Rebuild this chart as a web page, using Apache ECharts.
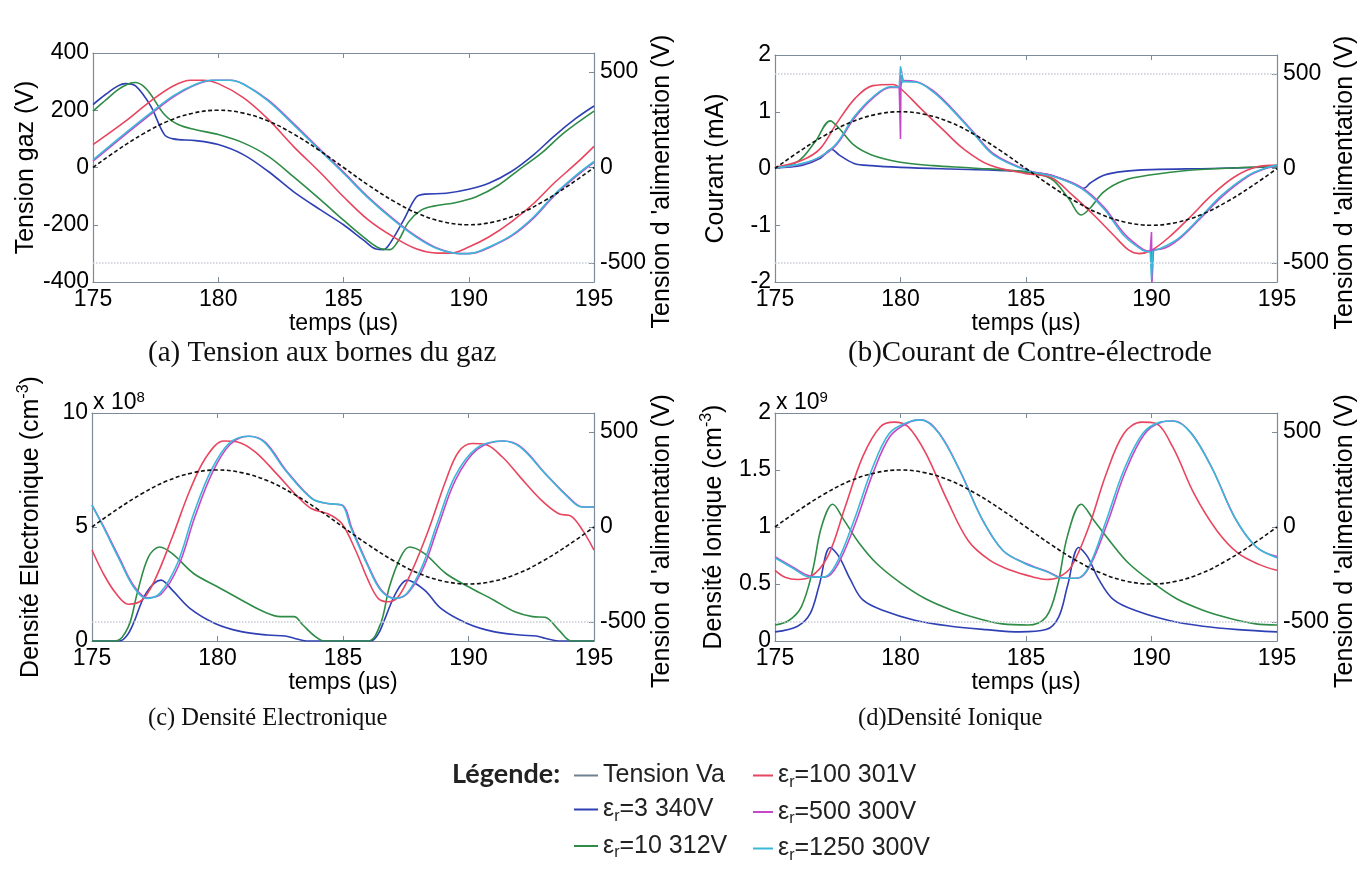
<!DOCTYPE html>
<html><head><meta charset="utf-8">
<script src="https://cdn.jsdelivr.net/npm/echarts@6/dist/echarts.min.js"></script>
<style>html,body{margin:0;padding:0;background:#fff}#c{width:1372px;height:880px}</style>
</head><body><div id="c"></div><script>
// ---------- DATA ----------
const SERIES_NAMES = ['Tension Va','εr=3 340V','εr=10 312V','εr=100 301V','εr=500 300V','εr=1250 300V'];
const X_TICKS = [175, 195, 5];
const T_VA = [175,176,177,178,179,180,181,182,183,184,185,186,187,188,189,190,191,192,193,194,195];
const VA   = [0,93,176,243,285,300,285,243,176,93,0,-93,-176,-243,-285,-300,-285,-243,-176,-93,0];

// (a) Tension gaz (V)
const A_E3 = [[175,220],[175.5,255],[176,285],[176.3,293],[176.7,285],[177.3,215],[177.85,115],[178.2,100],[179.1,94],[180,80],[181,45],[182,-14],[183,-84],[184.1,-149],[185,-200],[185.8,-254],[186.3,-285],[186.6,-287],[186.85,-266],[187.4,-184],[187.9,-104],[188.25,-93],[189.1,-90],[190,-76],[190.8,-55],[191.7,-14],[192.6,45],[193.4,109],[194.3,173],[195,215]];
const A_E10 = [[175,197],[175.5,235],[176,272],[176.4,292],[176.7,297],[177,285],[177.3,256],[177.85,185],[178.4,150],[179.1,132],[180,115],[181,86],[182,39],[183,-32],[184.1,-114],[185,-184],[185.8,-243],[186.5,-284],[186.85,-287],[187.2,-254],[187.6,-190],[188.1,-149],[188.6,-135],[189.5,-122],[190.3,-102],[191.2,-61],[192,-8],[192.9,50],[193.8,121],[195,197]];
const A_E100 = [[175,80],[176.3,162],[177.3,232],[178.2,285],[178.9,305],[179.4,305],[180,293],[181,244],[182,168],[183,74],[184.1,-20],[185,-102],[186,-184],[187,-243],[187.9,-284],[188.75,-299],[189.3,-299],[190,-278],[190.8,-243],[191.7,-190],[192.6,-125],[193.4,-55],[194.3,15],[195,74]];
const A_E500 = [[175,22],[176.3,116],[177.3,186],[178.2,246],[179.1,289],[179.8,305],[180.5,305],[181,292],[182,235],[183,154],[184.1,60],[185,-16],[186,-104],[187,-180],[187.9,-240],[188.75,-282],[189.7,-301],[190.2,-299],[190.8,-280],[191.7,-240],[192.6,-176],[193.4,-100],[194.3,-30],[195,18]];
const A_E1250 = [[175,27],[176.3,121],[177.3,191],[178.2,250],[179.1,291],[179.75,305],[180.45,305],[181,291],[182,232],[183,150],[184.1,56],[185,-20],[186,-108],[187,-184],[187.9,-243],[188.75,-284],[189.65,-301],[190.15,-299],[190.8,-278],[191.7,-237],[192.6,-172],[193.4,-96],[194.3,-26],[195,21]];

// (b) Courant (mA)
const B_E3 = [[175,0.01],[176.1,0.06],[176.8,0.18],[177.25,0.34],[177.55,0.24],[178.15,0.09],[178.85,0.05],[180,0.02],[182,-0.01],[183.7,-0.03],[185,-0.06],[186,-0.12],[186.85,-0.26],[187.3,-0.35],[187.55,-0.26],[188.1,-0.12],[188.9,-0.05],[190,-0.02],[192.4,0],[195,0.03]];
const B_E10 = [[175,0.01],[175.9,0.12],[176.6,0.47],[177.2,0.84],[177.55,0.71],[178.15,0.41],[178.85,0.24],[180,0.11],[181.3,0.05],[182.85,0.01],[185,-0.06],[186,-0.18],[186.7,-0.53],[187.2,-0.82],[187.55,-0.7],[188.1,-0.41],[188.9,-0.21],[190,-0.11],[191.5,-0.03],[193.3,0.01],[195,0.03]];
const B_E100 = [[175,0.02],[176.1,0.15],[176.8,0.35],[177.45,0.79],[178.2,1.24],[178.9,1.46],[179.7,1.48],[180,1.41],[180.8,1.06],[181.7,0.68],[182.5,0.35],[183.55,0.06],[185,-0.09],[186,-0.16],[186.85,-0.47],[187.7,-0.82],[188.5,-1.18],[189.1,-1.44],[189.5,-1.5],[190,-1.44],[190.7,-1.21],[191.55,-0.85],[192.4,-0.47],[193.3,-0.15],[194.2,0.03],[195,0.06]];
const B_E500 = [[175,0.01],[176.1,0.08],[176.8,0.2],[177.45,0.42],[178.15,0.88],[178.9,1.24],[179.6,1.43],[179.95,1.43],[180.1,1.55],[180.65,1.53],[181.3,1.37],[182,1.08],[182.85,0.67],[183.7,0.26],[185,-0.02],[186.15,-0.14],[187.2,-0.33],[188.1,-0.68],[188.9,-1.14],[189.65,-1.42],[189.95,-1.46],[190.08,-1.43],[190.4,-1.42],[191.05,-1.26],[191.9,-0.9],[192.8,-0.5],[193.85,-0.14],[194.55,0.0],[195,0.05]];
const B_E1250 = [[175,0.01],[176.1,0.09],[176.8,0.21],[177.45,0.44],[178.15,0.91],[178.9,1.26],[179.6,1.44],[179.95,1.43],[180.1,1.53],[180.65,1.52],[181.3,1.35],[182,1.06],[182.85,0.65],[183.7,0.24],[185,-0.03],[186.15,-0.15],[187.2,-0.35],[188.1,-0.71],[188.9,-1.18],[189.65,-1.44],[189.95,-1.47],[190.05,-1.45],[190.35,-1.41],[191.05,-1.24],[191.9,-0.88],[192.8,-0.47],[193.85,-0.12],[194.55,0.01],[195,0.06]];
const B_E500_SPIKES = [[[179.95,1.43],[180,0.52],[180.02,1.75],[180.1,1.55]], [[189.95,-1.46],[190,-1.12],[190.02,-2.0],[190.08,-1.43]]];
const B_E1250_SPIKES = [[[179.95,1.43],[180,1.8],[180.1,1.53]], [[189.95,-1.47],[190,-1.95],[190.05,-1.45]]];

// (c) Densité électronique (x1e8 cm-3)
const C_E3 = [[175,0],[176.1,0],[176.4,0.25],[176.65,0.77],[177.15,2.09],[177.75,2.67],[178.2,2.23],[178.9,1.43],[179.9,0.77],[180.95,0.41],[182,0.26],[182.7,0.22],[183.05,0.12],[183.55,0],[186.1,0],[186.4,0.3],[186.65,0.92],[187.1,2.09],[187.55,2.67],[188.25,2.23],[188.9,1.43],[189.95,0.77],[191,0.41],[192.05,0.26],[192.7,0.22],[193.05,0.12],[193.6,0],[195,0]];
const C_E10 = [[175,0],[175.95,0],[176.45,0.63],[176.8,2.09],[177.25,3.69],[177.7,4.12],[178.2,3.83],[179.05,2.96],[180,2.38],[180.95,1.8],[181.85,1.28],[182.5,1.07],[183.05,1.07],[183.4,0.7],[183.9,0.19],[184.25,0],[186,0],[186.5,0.77],[186.85,2.38],[187.3,3.69],[187.65,4.12],[188.25,3.83],[189.1,2.96],[190,2.38],[191,1.8],[191.85,1.28],[192.55,1.07],[193.05,1.04],[193.6,0.48],[194.1,0],[195,0]];
const C_E100 = [[175,3.99],[175.45,2.96],[175.95,2.09],[176.45,1.61],[177,1.8],[177.5,2.67],[178.2,4.56],[178.9,6.61],[179.55,8.07],[180.25,8.77],[180.8,8.73],[181.5,8.29],[182.35,7.34],[183.2,6.32],[183.75,5.8],[184.4,5.58],[184.95,5.15],[185.5,3.98],[186,2.67],[186.4,1.87],[186.8,1.72],[187.2,1.94],[187.7,2.96],[188.4,4.85],[189.1,7.05],[189.6,8.29],[190.15,8.66],[190.65,8.63],[191.35,8.07],[192.05,7.2],[192.9,6.18],[193.6,5.58],[194.1,5.47],[194.55,4.85],[195,3.99]];
const C_E500 = [[175,5.96],[175.45,5.05],[176.1,3.62],[176.65,2.45],[177.2,1.9],[177.75,2.05],[178.45,3.3],[179.1,5.45],[179.8,7.4],[180.5,8.62],[181.25,8.98],[181.9,8.72],[182.75,7.46],[183.8,6.22],[184.45,6.02],[185,5.94],[185.35,4.95],[186.05,3.2],[186.55,2.2],[187.1,1.87],[187.6,2.12],[188.2,3.2],[188.8,5.05],[189.5,7.1],[190.35,8.4],[191.4,8.77],[192.1,8.5],[193.1,7.3],[194,6.3],[194.55,5.88],[195,5.88]];
const C_E1250 = [[175,5.96],[175.45,5.0],[176.1,3.55],[176.65,2.38],[177.15,1.87],[177.7,2.09],[178.4,3.4],[179.05,5.58],[179.75,7.49],[180.45,8.66],[181.2,8.98],[181.85,8.73],[182.7,7.49],[183.75,6.25],[184.4,6.03],[184.95,5.96],[185.3,5.0],[186,3.26],[186.5,2.23],[187.05,1.87],[187.55,2.09],[188.15,3.26],[188.75,5.15],[189.45,7.2],[190.3,8.44],[191.35,8.77],[192.05,8.51],[193.05,7.34],[193.95,6.32],[194.5,5.88],[195,5.88]];

// (d) Densité ionique (x1e9 cm-3)
const D_E3 = [[175,0.08],[175.9,0.13],[176.4,0.24],[176.75,0.48],[177.2,0.82],[177.55,0.74],[178,0.54],[178.5,0.36],[179.4,0.26],[180.6,0.18],[182,0.13],[183.4,0.1],[184.75,0.08],[185.8,0.1],[186.3,0.21],[186.65,0.48],[187.1,0.82],[187.45,0.74],[187.9,0.54],[188.5,0.36],[189.45,0.26],[190.7,0.18],[192.05,0.13],[193.45,0.1],[195,0.08]];
const D_E10 = [[175,0.14],[175.55,0.18],[176.05,0.3],[176.5,0.62],[176.85,1.0],[177.3,1.2],[177.75,1.06],[178.35,0.86],[179.05,0.68],[180,0.51],[181,0.37],[182.05,0.27],[183.05,0.2],[184.05,0.15],[185.1,0.14],[185.8,0.21],[186.25,0.48],[186.65,0.92],[187.2,1.2],[187.7,1.06],[188.4,0.86],[189.1,0.68],[190,0.52],[191,0.37],[192.05,0.27],[193.1,0.2],[194.15,0.15],[195,0.14]];
const D_E100 = [[175,0.62],[175.4,0.56],[175.9,0.54],[176.4,0.56],[177.1,0.74],[177.8,1.18],[178.5,1.62],[179.2,1.88],[179.75,1.92],[180.3,1.88],[181,1.65],[181.85,1.24],[182.7,0.88],[183.55,0.71],[184.4,0.62],[185.3,0.56],[185.8,0.54],[186.3,0.56],[186.8,0.65],[187.5,1.0],[188.2,1.47],[188.9,1.82],[189.6,1.92],[190.15,1.91],[190.85,1.7],[191.7,1.29],[192.6,0.97],[193.45,0.77],[194.3,0.67],[195,0.62]];
const D_E500 = [[175,0.74],[175.7,0.65],[176.4,0.57],[177,0.56],[177.5,0.67],[178.2,1.03],[178.9,1.47],[179.6,1.8],[180.35,1.92],[180.85,1.94],[181.55,1.82],[182.4,1.48],[183.25,1.07],[184.1,0.79],[185,0.68],[185.85,0.61],[186.55,0.55],[187.05,0.55],[187.55,0.66],[188.25,1.04],[188.95,1.48],[189.7,1.81],[190.4,1.92],[190.9,1.93],[191.6,1.82],[192.45,1.5],[193.35,1.07],[194.2,0.82],[195,0.74]];
const D_E1250 = [[175,0.73],[175.7,0.64],[176.4,0.56],[176.95,0.56],[177.45,0.68],[178.15,1.06],[178.85,1.5],[179.55,1.82],[180.3,1.92],[180.8,1.94],[181.5,1.83],[182.35,1.5],[183.2,1.09],[184.05,0.8],[184.95,0.68],[185.8,0.61],[186.5,0.55],[187,0.55],[187.5,0.65],[188.2,1.06],[188.9,1.5],[189.65,1.82],[190.35,1.92],[190.85,1.93],[191.55,1.83],[192.4,1.52],[193.3,1.09],[194.15,0.83],[195,0.73]];

const LEFT_RANGES = [[-400,400,200],[-2,2,1],[0,10,5],[0,2,0.5]];
const RIGHT_RANGE = [-600,600];
const RIGHT_TICKS = [-500,0,500];
const DOTTED_LINES = [[-500],[500,-500],[-500],[-500]];
const LEFT_NAMES = ['Tension gaz (V)','Courant (mA)','{n|Densité Electronique (cm}{sup|-3}{n|)}','{n|Densité Ionique (cm}{sup|-3}{n|)}'];
const RIGHT_NAME = "Tension d 'alimentation (V)";
const X_NAME = 'temps (µs)';
const CAPTIONS = ['(a) Tension aux bornes du gaz','(b)Courant de Contre-électrode','(c) Densité Electronique','(d)Densité Ionique'];
const EXPONENTS = [null,null,'8','9'];

// ---------- STYLE / LAYOUT ----------
const COLORS = ['#111111','#2f3fb4','#2e8c46','#e8455f','#c548c8','#3ab8d8'];
const GRIDS = [
  {left:93, top:53, width:501, height:229},
  {left:775, top:55, width:502, height:227},
  {left:92, top:413, width:502, height:228},
  {left:775, top:413, width:502, height:228}
];
const CAP_POS = [[148,339],[848,339],[148,706],[858,706]];
const CAP_SIZE = [29,29,24.5,24.5];
const FONT = '"Liberation Sans", Arial, sans-serif';
const AXC = '#7d8b99';

const PANEL_DATA = [
  [A_E3,A_E10,A_E100,A_E500,A_E1250],
  [B_E3,B_E10,B_E100,B_E500,B_E1250],
  [C_E3,C_E10,C_E100,C_E500,C_E1250],
  [D_E3,D_E10,D_E100,D_E500,D_E1250]
];

const xAxis = [], yAxis = [], series = [], graphic = [];
const lblStyle = {color:'#000', fontFamily:FONT, fontSize:23};
const nameStyle = {color:'#000', fontFamily:FONT, fontSize:25};
GRIDS.forEach((g,i)=>{
  xAxis.push({gridIndex:i, type:'value', min:X_TICKS[0], max:X_TICKS[1], interval:X_TICKS[2],
    name:X_NAME, nameLocation:'middle', nameGap:26, nameTextStyle:{...lblStyle},
    axisLine:{onZero:false, lineStyle:{color:AXC,width:1.2}}, axisTick:{inside:true,length:5,lineStyle:{color:AXC}},
    axisLabel:{...lblStyle, margin:6}, splitLine:{show:false}});
  xAxis.push({gridIndex:i, type:'value', position:'top', min:X_TICKS[0], max:X_TICKS[1], interval:X_TICKS[2],
    axisLine:{onZero:false, lineStyle:{color:AXC,width:1.2}}, axisTick:{inside:true,length:5,lineStyle:{color:AXC}},
    axisLabel:{show:false}, splitLine:{show:false}});
  const lr = LEFT_RANGES[i];
  yAxis.push({gridIndex:i, type:'value', position:'left', min:lr[0], max:lr[1], interval:lr[2],
    name:LEFT_NAMES[i], nameLocation:'middle', nameGap:46,
    nameTextStyle:{...nameStyle, rich:{n:{fontFamily:FONT,fontSize:25,color:'#000',lineHeight:30}, sup:{fontFamily:FONT,fontSize:16,color:'#000',verticalAlign:'top',lineHeight:30}}},
    axisLine:{show:true,onZero:false,lineStyle:{color:AXC,width:1.2}}, axisTick:{inside:true,length:5,lineStyle:{color:AXC}},
    axisLabel:{...lblStyle, margin:4}, splitLine:{show:false}});
  yAxis.push({gridIndex:i, type:'value', position:'right', min:RIGHT_RANGE[0], max:RIGHT_RANGE[1],
    name:RIGHT_NAME, nameLocation:'middle', nameGap:54, nameTextStyle:{...nameStyle, padding:[0,28,0,0]},
    axisLine:{show:true,onZero:false,lineStyle:{color:AXC,width:1.2}},
    axisTick:{inside:true,length:5,lineStyle:{color:AXC},customValues:RIGHT_TICKS},
    axisLabel:{...lblStyle, margin:6, customValues:RIGHT_TICKS}, splitLine:{show:false}});

  // Va on right axis
  series.push({name:SERIES_NAMES[0], type:'line', xAxisIndex:2*i, yAxisIndex:2*i+1,
    data:T_VA.map((t,k)=>[t,VA[k]]), smooth:0.4, showSymbol:false,
    itemStyle:{color:COLORS[0]}, lineStyle:{color:COLORS[0], width:1.6, type:[4,2.5]},
    markLine:{silent:true, symbol:'none', label:{show:false}, animation:false,
      lineStyle:{color:'#c8cdd4', type:'dotted', width:1.5},
      data:DOTTED_LINES[i].map(v=>({yAxis:v}))}, z:3});
  PANEL_DATA[i].forEach((d,k)=>{
    series.push({name:SERIES_NAMES[k+1], type:'line', xAxisIndex:2*i, yAxisIndex:2*i,
      data:d, smooth:0.35, showSymbol:false, itemStyle:{color:COLORS[k+1]},
      lineStyle:{color:COLORS[k+1], width:1.6}, z:2});
  });
  if(i===1){
    B_E500_SPIKES.forEach(sp=>series.push({name:SERIES_NAMES[4], type:'line', xAxisIndex:2, yAxisIndex:2, data:sp, smooth:false, showSymbol:false, itemStyle:{color:COLORS[4]}, lineStyle:{color:COLORS[4],width:1.6}, z:2}));
    B_E1250_SPIKES.forEach(sp=>series.push({name:SERIES_NAMES[5], type:'line', xAxisIndex:2, yAxisIndex:2, data:sp, smooth:false, showSymbol:false, itemStyle:{color:COLORS[5]}, lineStyle:{color:COLORS[5],width:1.6}, z:2}));
  }
  graphic.push({type:'text', left:CAP_POS[i][0], top:CAP_POS[i][1],
    style:{text:CAPTIONS[i], font:CAP_SIZE[i]+'px "Liberation Serif", "Times New Roman", serif', fill:'#111'}});
  if(EXPONENTS[i]){
    graphic.push({type:'text', left:g.left+1, top:g.top-23,
      style:{text:'{a|x 10}{b|'+EXPONENTS[i]+'}', rich:{a:{fontFamily:FONT,fontSize:23,fill:'#000',lineHeight:26}, b:{fontFamily:FONT,fontSize:15,fill:'#000',verticalAlign:'top',lineHeight:26}}}});
  }
});
graphic.push({type:'text', left:452, top:761, style:{text:'Légende:', font:'bold 27px Lato, "Open Sans", sans-serif', fill:'#222'}});

const legFmt = n => n.startsWith('εr') ? '{a|ε}{s|r}{a|'+n.slice(2)+'}' : '{a|'+n+'}';
const legText = {fontFamily:FONT, fontSize:25, color:'#222',
  rich:{a:{fontFamily:FONT,fontSize:25,color:'#222',lineHeight:30}, s:{fontFamily:FONT,fontSize:16,color:'#222',verticalAlign:'bottom',lineHeight:30}}};
const legend = [
  {orient:'vertical', left:574, top:763, itemGap:9, icon:'rect', itemWidth:24, itemHeight:2, padding:0,
   data:[{name:SERIES_NAMES[0], itemStyle:{color:'#6f8090'}}, SERIES_NAMES[1], SERIES_NAMES[2]],
   formatter:legFmt, textStyle:legText, selectedMode:false},
  {orient:'vertical', left:753, top:763, itemGap:9, icon:'rect', itemWidth:20, itemHeight:2, padding:0,
   data:[SERIES_NAMES[3], SERIES_NAMES[4], SERIES_NAMES[5]],
   formatter:legFmt, textStyle:legText, selectedMode:false}
];

const chart = echarts.init(document.getElementById('c'));
chart.setOption({animation:false, backgroundColor:'#fff', grid:GRIDS, xAxis, yAxis, series, legend, graphic});
</script></body></html>
